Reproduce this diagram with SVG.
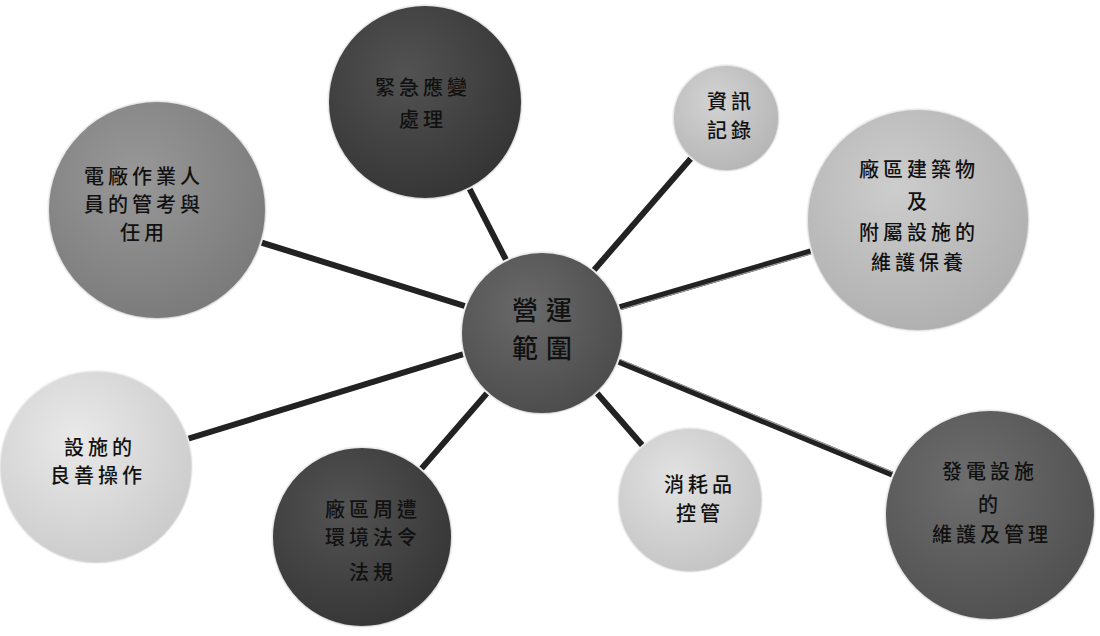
<svg xmlns="http://www.w3.org/2000/svg" width="1100" height="636" viewBox="0 0 1100 636">
<style>
.t{font-family:"Noto Sans CJK TC","Noto Sans CJK SC",sans-serif;font-size:20px;fill:#111;text-anchor:middle;letter-spacing:4px;font-weight:500}
.c{stroke:#f4f4f4;stroke-width:2}
.ln{stroke:#222;stroke-width:6;stroke-linecap:butt}
.hl{stroke:#9a9a9a;stroke-width:1.2}
</style>
<defs>
<radialGradient id="g" cx="0.4" cy="0.35" r="0.7">
<stop offset="0" stop-color="#fff" stop-opacity="0.12"/>
<stop offset="1" stop-color="#000" stop-opacity="0.12"/>
</radialGradient>
</defs>
<rect width="1100" height="636" fill="#fff"/>
<g id="connectors">
<line class="ln" x1="542" y1="330" x2="425" y2="102"/>
<line class="ln" x1="542" y1="330" x2="726" y2="118"/>
<line class="ln" x1="542" y1="330" x2="918" y2="220"/>
<line class="ln" x1="542" y1="330" x2="990" y2="515"/>
<line class="ln" x1="542" y1="330" x2="690" y2="500"/>
<line class="ln" x1="542" y1="330" x2="362" y2="537"/>
<line class="ln" x1="542" y1="330" x2="96" y2="467"/>
<line class="ln" x1="542" y1="330" x2="157" y2="210"/>
<line class="hl" x1="544" y1="332" x2="920" y2="222"/>
<line class="hl" x1="544" y1="328" x2="992" y2="513"/>
</g>
<g id="n-emergency">
<circle class="c" cx="425" cy="102" r="97" fill="#3b3b3b"/>
<circle cx="425" cy="102" r="97" fill="url(#g)"/>
<text class="t" x="423" y="95">緊急應變</text>
<text class="t" x="423" y="127">處理</text>
</g>
<g id="n-info">
<circle class="c" cx="726" cy="118" r="53" fill="#cdcdcd"/>
<circle cx="726" cy="118" r="53" fill="url(#g)"/>
<text class="t" x="731" y="109">資訊</text>
<text class="t" x="731" y="138">記錄</text>
</g>
<g id="n-building">
<circle class="c" cx="918" cy="220" r="111" fill="#c6c6c6"/>
<circle cx="918" cy="220" r="111" fill="url(#g)"/>
<text class="t" x="919" y="177">廠區建築物</text>
<text class="t" x="919" y="209">及</text>
<text class="t" x="919" y="240">附屬設施的</text>
<text class="t" x="919" y="270">維護保養</text>
</g>
<g id="n-staff">
<circle class="c" cx="157" cy="210" r="109" fill="#8a8a8a"/>
<circle cx="157" cy="210" r="109" fill="url(#g)"/>
<text class="t" x="144" y="184">電廠作業人</text>
<text class="t" x="144" y="212">員的管考與</text>
<text class="t" x="144" y="240">任用</text>
</g>
<g id="n-operation">
<circle class="c" cx="96" cy="467" r="96" fill="#e6e6e6"/>
<circle cx="96" cy="467" r="96" fill="url(#g)"/>
<text class="t" x="100" y="455">設施的</text>
<text class="t" x="98" y="483">良善操作</text>
</g>
<g id="n-env">
<circle class="c" cx="362" cy="537" r="90" fill="#3c3c3c"/>
<circle cx="362" cy="537" r="90" fill="url(#g)"/>
<text class="t" x="373" y="517">廠區周遭</text>
<text class="t" x="373" y="545">環境法令</text>
<text class="t" x="373" y="580">法規</text>
</g>
<g id="n-consumables">
<circle class="c" cx="690" cy="500" r="72" fill="#dedede"/>
<circle cx="690" cy="500" r="72" fill="url(#g)"/>
<text class="t" x="700" y="492">消耗品</text>
<text class="t" x="700" y="521">控管</text>
</g>
<g id="n-power">
<circle class="c" cx="990" cy="515" r="105" fill="#5a5a5a"/>
<circle cx="990" cy="515" r="105" fill="url(#g)"/>
<text class="t" x="990" y="479">發電設施</text>
<text class="t" x="990" y="512">的</text>
<text class="t" x="992" y="542">維護及管理</text>
</g>
<g id="n-center">
<circle class="c" cx="542" cy="333" r="81" fill="#555"/>
<circle cx="542" cy="333" r="81" fill="url(#g)"/>
<text class="t" x="546" y="320" style="font-size:26px;letter-spacing:8px">營運</text>
<text class="t" x="546" y="358" style="font-size:26px;letter-spacing:8px">範圍</text>
</g>
</svg>
